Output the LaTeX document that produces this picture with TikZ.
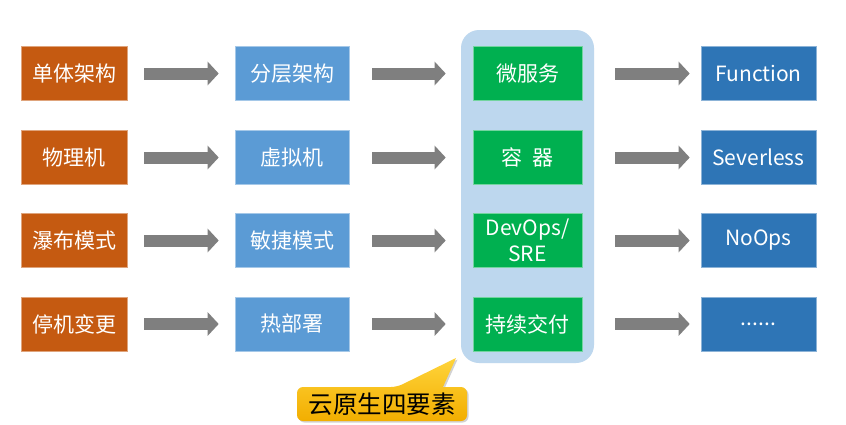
\documentclass[tikz,border=0pt]{standalone}
\usepackage{fontspec}
\setmainfont{Noto Sans CJK SC}
\usetikzlibrary{arrows.meta,shadows}
\definecolor{oldorange}{HTML}{C55A11}
\definecolor{midblue}{HTML}{5B9BD5}
\definecolor{cngreen}{HTML}{00B050}
\definecolor{newblue}{HTML}{2E75B6}
\definecolor{panelblue}{HTML}{BDD7EE}
\definecolor{flowgray}{HTML}{7F7F7F}
\definecolor{tagtop}{HTML}{FFD43B}
\definecolor{tagbot}{HTML}{F2AE00}

\begin{document}
\begin{tikzpicture}[x=1pt,y=-1pt,
		box/.style={minimum height=54pt,inner sep=0pt,align=center,text=white,
			font=\fontsize{21}{26}\selectfont},
		oldbox/.style={box,fill=oldorange,draw=oldorange!55!white,line width=0.6pt,minimum width=106pt},
		midbox/.style={box,fill=midblue,draw=midblue!55!white,line width=0.6pt,minimum width=114pt},
		cnbox/.style={box,fill=cngreen,draw=cngreen!55!white,line width=0.6pt,minimum width=109pt},
		newbox/.style={box,fill=newblue,draw=newblue!55!white,line width=0.6pt,minimum width=115pt},
		flow/.style={draw=flowgray,line width=12pt,-{Triangle[length=11pt,width=23pt]}},
		flowa/.style={flow,shorten <=17pt,shorten >=16pt},
		flowb/.style={flow,shorten <=23pt,shorten >=27pt},
		flowc/.style={flow,shorten <=33pt,shorten >=11pt}]
		\useasboundingbox (0,0) rectangle (846,424);
		\fill[white] (0,0) rectangle (846,424);
		%
		\node[fill=panelblue,rounded corners=18pt,minimum width=133pt,minimum height=333pt] (panel) at (527.5,196.5) {};
		%
		\node[oldbox] (a1) at (74,73.5) {单体架构};
		\node[oldbox] (a2) at (74,157.5) {物理机};
		\node[oldbox] (a3) at (74,240.5) {瀑布模式};
		\node[oldbox] (a4) at (74,324) {停机变更};
		\node[midbox] (b1) at (292,73.5) {分层架构};
		\node[midbox] (b2) at (292,157.5) {虚拟机};
		\node[midbox] (b3) at (292,240.5) {敏捷模式};
		\node[midbox] (b4) at (292,324) {热部署};
		\node[cnbox] (c1) at (527.5,73.5) {微服务};
		\node[cnbox] (c2) at (527.5,157.5) {容\ \ 器};
		\node[cnbox] (c3) at (527.5,240.5) {DevOps/\\SRE};
		\node[cnbox] (c4) at (527.5,324) {持续交付};
		\node[newbox] (d1) at (758.5,73.5) {Function};
		\node[newbox] (d2) at (758.5,157.5) {Severless};
		\node[newbox] (d3) at (758.5,240.5) {NoOps};
		\node[newbox] (d4) at (758.5,324) {......};
		%
		\draw[flowa] (a1) -- (b1);
		\draw[flowa] (a2) -- (b2);
		\draw[flowa] (a3) -- (b3);
		\draw[flowa] (a4) -- (b4);
		\draw[flowb] (b1) -- (c1);
		\draw[flowb] (b2) -- (c2);
		\draw[flowb] (b3) -- (c3);
		\draw[flowb] (b4) -- (c4);
		\draw[flowc] (c1) -- (d1);
		\draw[flowc] (c2) -- (d2);
		\draw[flowc] (c3) -- (d3);
		\draw[flowc] (c4) -- (d4);
		%
		\coordinate (tip) at (456,358);
		\path[top color=tagtop,bottom color=tagbot,drop shadow={opacity=0.35,shadow xshift=1.5pt,shadow yshift=-1.5pt}]
			[rounded corners=6pt] (297,404) |- (397,387) [sharp corners] -- (tip) -- (443,387)
			[rounded corners=6pt] -| (467,404) |- (297,421) -- cycle;
		\node[font=\fontsize{24.5}{28}\selectfont] (tag) at (382,404) {云原生四要素};
\end{tikzpicture}
\end{document}
